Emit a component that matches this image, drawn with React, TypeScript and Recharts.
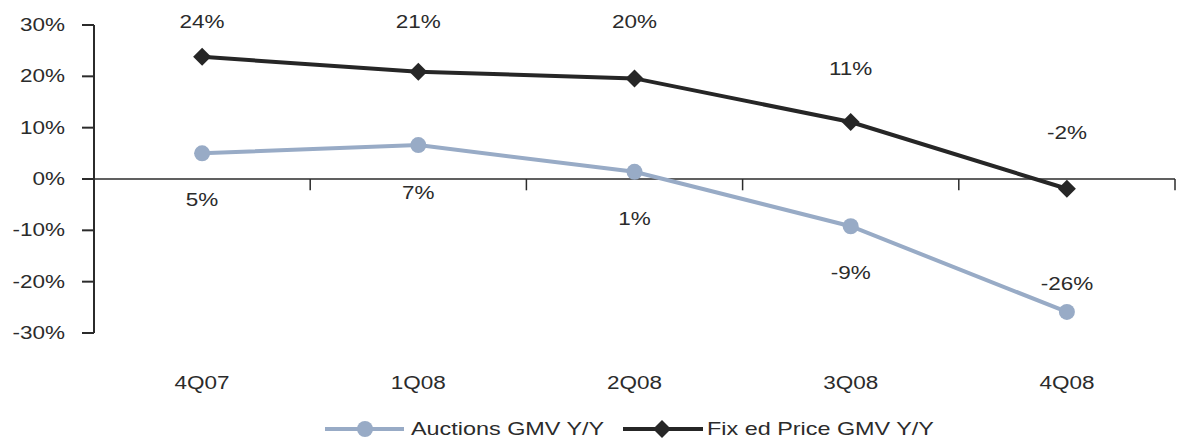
import { LineChart, Line, XAxis, YAxis, ReferenceLine, Legend } from 'recharts';

const quarters = ['4Q07', '1Q08', '2Q08', '3Q08', '4Q08'];
const auctionsGmv = [5, 6.6, 1.4, -9.2, -25.9];
const fixedPriceGmv = [23.8, 20.9, 19.6, 11.1, -1.9];
const yTicks = [-30, -20, -10, 0, 10, 20, 30];

// label offsets (px from the point) as placed in the original
const auctionsLabelDy = [47, 48, 47, 47, -28];
const fixedLabelDy = [-35, -50, -56, -53, -56];

const data = quarters.map((q, i) => ({
  x: i + 0.5,
  quarter: q,
  auctions: auctionsGmv[i],
  fixed: fixedPriceGmv[i],
}));

const FONT = '"Liberation Sans", Arial, sans-serif';
const TEXT = '#2b2b2b';
const AUCTION = '#98abc6';
const FIXED = '#262626';

function Stretch({ x, y, anchor, children, size = 18, sx = 1.25 }: any) {
  return (
    <text
      transform={`translate(${x},${y}) scale(${sx},1)`}
      textAnchor={anchor}
      fontFamily={FONT}
      fontSize={size}
      fill={TEXT}
    >
      {children}
    </text>
  );
}

const YTick = ({ x, y, payload }: any) => (
  <Stretch x={x} y={y + 6} anchor="end">{`${payload.value}%`}</Stretch>
);

const XTick = ({ x, y, payload }: any) => (
  <Stretch x={x} y={y + 56} anchor="middle">{quarters[Math.round(payload.value - 0.5)]}</Stretch>
);

const makeLabel = (offsets: number[]) => (props: any) => {
  const { x, y, value, index } = props;
  return (
    <Stretch x={x} y={y + offsets[index] + 6} anchor="middle">{`${Math.round(value)}%`}</Stretch>
  );
};

const Diamond = (props: any) => {
  const { cx, cy } = props;
  if (cx == null || cy == null) return null;
  const r = 9;
  return <path d={`M${cx},${cy - r}L${cx + r},${cy}L${cx},${cy + r}L${cx - r},${cy}Z`} fill={FIXED} />;
};

const LegendContent = () => (
  <div style={{ height: 30, paddingLeft: 322 }}>
    <svg width={640} height={30} style={{ display: 'block', overflow: 'visible' }}>
      <line x1={3} y1={20} x2={82} y2={20} stroke={AUCTION} strokeWidth={4} />
      <circle cx={43} cy={20} r={8} fill={AUCTION} />
      <Stretch x={89} y={26} anchor="start" sx={1.3}>Auctions GMV Y/Y</Stretch>
      <line x1={301} y1={20} x2={381} y2={20} stroke={FIXED} strokeWidth={4} />
      <path d="M340,11L349,20L340,29L331,20Z" fill={FIXED} />
      <Stretch x={385} y={26} anchor="start" sx={1.3}>Fix ed Price GMV Y/Y</Stretch>
    </svg>
  </div>
);

export default function App() {
  return (
    <div style={{ position: 'absolute', left: 0, top: 0, background: '#fff' }}>
      <LineChart width={1183} height={445} data={data} margin={{ top: 25, right: 8, left: 0, bottom: 6 }}>
        <XAxis
          dataKey="x"
          type="number"
          domain={[0, 5]}
          ticks={[0.5, 1.5, 2.5, 3.5, 4.5]}
          axisLine={false}
          tickLine={false}
          tickSize={0}
          tickMargin={0}
          height={76}
          tick={<XTick />}
        />
        <YAxis
          domain={[-30, 30]}
          ticks={yTicks}
          width={94}
          tickSize={12}
          tickMargin={17}
          axisLine={{ stroke: TEXT, strokeWidth: 2 }}
          tickLine={{ stroke: TEXT, strokeWidth: 2 }}
          tick={<YTick />}
        />
        <ReferenceLine y={0} stroke={TEXT} strokeWidth={1.5} />
        {[1, 2, 3, 4, 5].map((b) => (
          <ReferenceLine
            key={b}
            segment={[{ x: b, y: 0 }, { x: b, y: -2.2 }]}
            stroke={TEXT}
            strokeWidth={1.5}
          />
        ))}
        <Legend verticalAlign="bottom" wrapperStyle={{ left: 0, width: 1183 }} content={<LegendContent />} />
        <Line
          dataKey="auctions"
          stroke={AUCTION}
          strokeWidth={4}
          dot={{ r: 8, fill: AUCTION, stroke: AUCTION, strokeWidth: 0 }}
          label={makeLabel(auctionsLabelDy)}
          isAnimationActive={false}
          legendType="none"
        />
        <Line
          dataKey="fixed"
          stroke={FIXED}
          strokeWidth={4}
          dot={<Diamond />}
          label={makeLabel(fixedLabelDy)}
          isAnimationActive={false}
          legendType="none"
        />
      </LineChart>
    </div>
  );
}
